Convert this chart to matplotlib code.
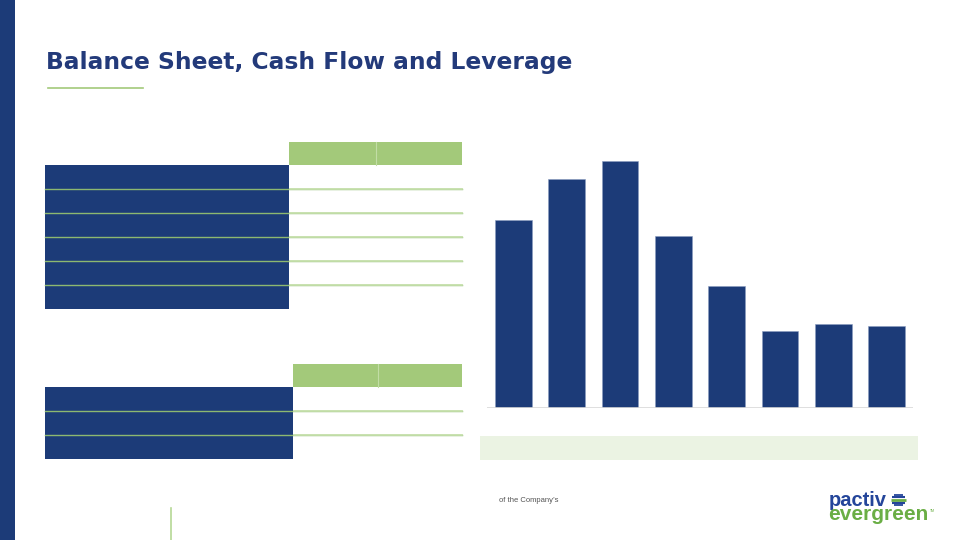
import matplotlib.pyplot as plt
from matplotlib.patches import Rectangle

# bar heights (no labels visible, relative scale)
periods = ["P1", "P2", "P3", "P4", "P5", "P6", "P7", "P8"]
leverage = [4.63, 5.66, 6.10, 4.24, 3.00, 1.91, 2.08, 2.02]

# the two tables only show their layout, rows are empty
table1_rows = 6
table2_rows = 3

navy = "#1C3B78"
green = "#A3C97A"
light_green = "#EBF3E3"

plt.rcParams['font.family'] = ['Liberation Sans', 'DejaVu Sans']

fig = plt.figure(figsize=(9.6, 5.4), dpi=100)
bg = fig.add_axes([0, 0, 1, 1])
bg.set_xlim(0, 960)
bg.set_ylim(540, 0)
bg.axis("off")

# side bar, title and underline
bg.add_patch(Rectangle((0, 0), 15, 540, color=navy, lw=0))
bg.text(46, 63, "Balance Sheet, Cash Flow and Leverage", fontsize=16.8,
        fontweight="bold", family="DejaVu Sans", color="#233A7A",
        va="center", ha="left")
bg.plot([48, 143], [87.5, 87.5], color=green, lw=1.2)


def draw_table(x0, xsplit, xdiv, x1, ytop, nrows, rowh=24, headh=23):
    # header cells
    bg.add_patch(Rectangle((xsplit, ytop), x1 - xsplit, headh, color=green, lw=0))
    bg.plot([xdiv, xdiv], [ytop, ytop + headh], color="#C2DDA5", lw=0.8)
    y = ytop + headh
    bg.add_patch(Rectangle((x0, y), xsplit - x0, rowh * nrows, color=navy, lw=0))
    for i in range(1, nrows):
        yy = y + rowh * i
        bg.plot([x0, x1], [yy, yy], color="#8DB870", lw=1.0)
        bg.plot([xsplit + 1, x1], [yy, yy], color="#C6E0AC", lw=1.3)


draw_table(45, 289, 375.5, 462, 141.5, table1_rows)
draw_table(45, 292.5, 377.5, 462, 363.5, table2_rows)

# bar chart
ax = fig.add_axes([486.7 / 960, 1 - 408 / 540, (913.3 - 486.7) / 960, 258 / 540])
ax.bar(range(len(periods)), leverage, width=0.69, color=navy,
       edgecolor="#8A9CC0", linewidth=0.4)
ax.set_xlim(-0.5, len(periods) - 0.5)
ax.set_ylim(0, 6.37)
ax.axhline(0, color="#D9D9D9", lw=1.2)
ax.axis("off")

bg.add_patch(Rectangle((480, 436), 438, 24, color=light_green, lw=0))

# footer
bg.text(499, 501, "of the Company\u2019s", fontsize=5.5, color="#555555",
        va="center", ha="left")
bg.plot([170.5, 170.5], [508, 540], color="#B5D895", lw=1.2)

# logo
bg.text(829, 506, "pactiv", fontsize=14.5, fontweight="bold", color="#24459A",
        va="baseline", ha="left")
bg.text(828, 520, "evergreen", fontsize=15, fontweight="bold", color="#6AAE45",
        va="baseline", ha="left")
globe = [(-5.2, "#24459A", 1.3), (-2.6, "#24459A", 1.5), (0, "#6AAE45", 2.0),
         (2.6, "#24459A", 1.5), (5.2, "#24459A", 1.3)]
for dy, c, lw in globe:
    half = (7.2 ** 2 - dy ** 2) ** 0.5
    bg.plot([898.5 - half, 898.5 + half], [500 + dy, 500 + dy], color=c,
            lw=lw, solid_capstyle="butt")
bg.text(930, 511, "TM", fontsize=2.5, color="#6AAE45", va="center", ha="left")

fig.savefig("out.png", dpi=100)
